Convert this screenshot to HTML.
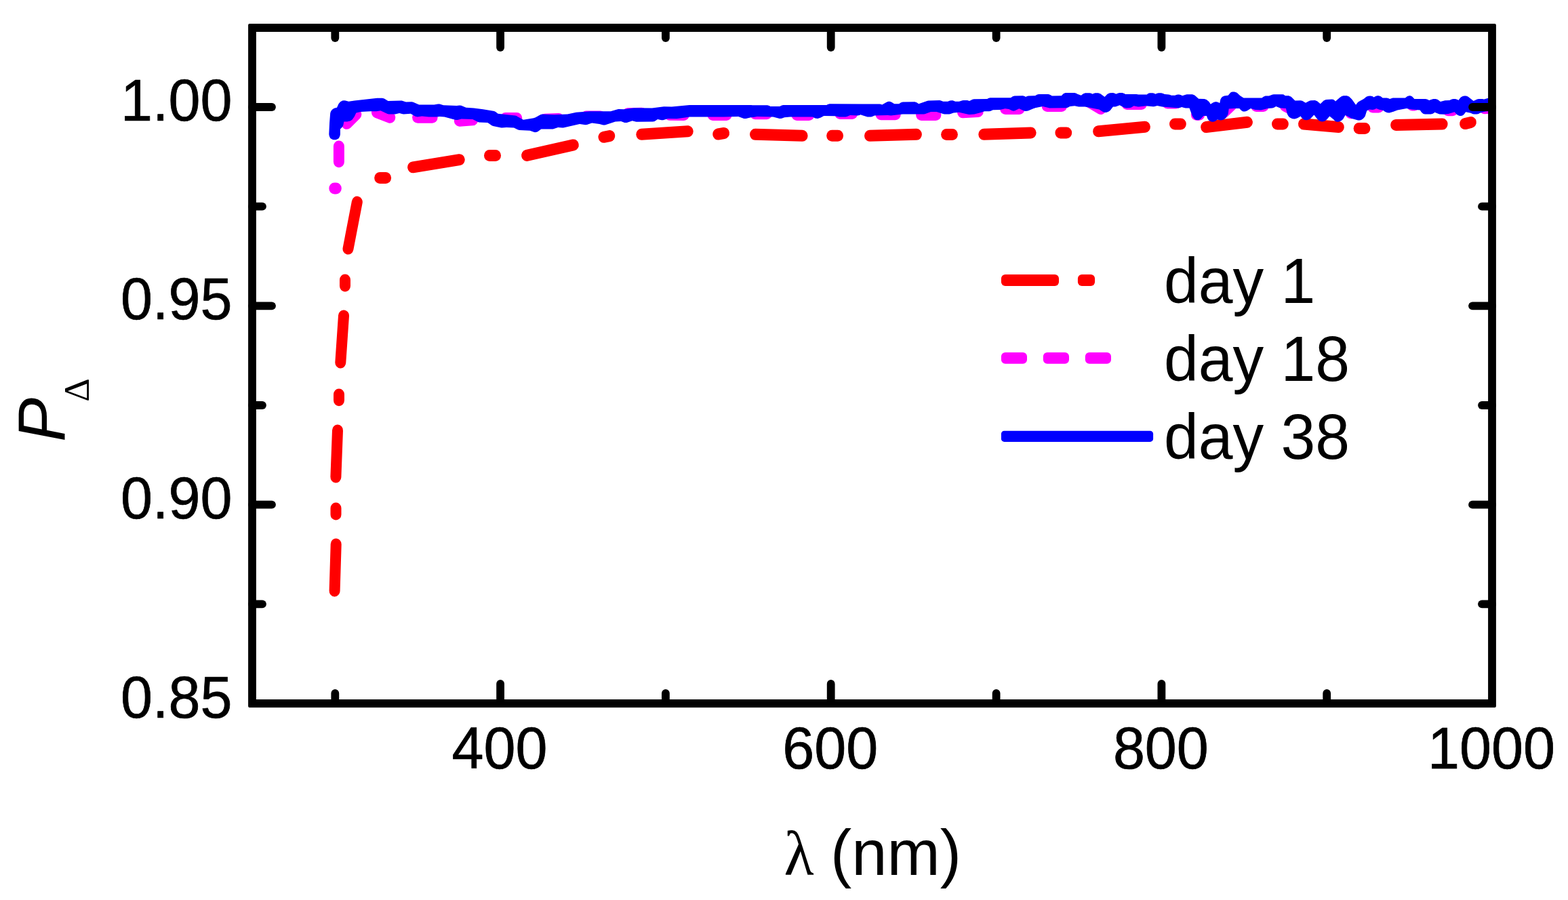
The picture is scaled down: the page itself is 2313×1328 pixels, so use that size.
<!DOCTYPE html>
<html lang="en"><head><meta charset="utf-8"><title>P_Delta vs lambda</title>
<style>
html,body{margin:0;padding:0;background:#fff;}
body{width:2313px;height:1328px;overflow:hidden;}
svg{display:block;}
text{font-family:"Liberation Sans",sans-serif;fill:#000;}
.sf{font-family:"Liberation Serif",serif;}
</style></head><body>
<svg width="2313" height="1328" viewBox="0 0 2313 1328">
<rect x="0" y="0" width="2313" height="1328" fill="#fff"/>
<defs><clipPath id="plot"><rect x="372.0" y="41.0" width="1829.0" height="997.0"/></clipPath></defs>
<g clip-path="url(#plot)">
<g transform="scale(0.94118,1)" fill="none" stroke-linecap="round" stroke-width="17">
<g stroke="#ff0000">
<line x1="526.68" y1="803.0" x2="524.45" y2="871.9"/>
<line x1="526.47" y1="750.1" x2="526.47" y2="759.1"/>
<line x1="529.12" y1="635.1" x2="526.36" y2="703.9"/>
<line x1="531.25" y1="582.0" x2="531.25" y2="590.8"/>
<line x1="538.69" y1="465.9" x2="533.69" y2="535.0"/>
<line x1="540.81" y1="413.0" x2="540.81" y2="421.9"/>
<line x1="559.72" y1="298.1" x2="545.59" y2="367.1"/>
<line x1="595.21" y1="262.5" x2="604.67" y2="262.5"/>
<line x1="647.17" y1="246.8" x2="720.06" y2="235.7"/>
<line x1="767.12" y1="229.6" x2="776.69" y2="229.6"/>
<line x1="825.67" y1="229.4" x2="898.66" y2="213.9"/>
<line x1="946.16" y1="202.3" x2="955.51" y2="200.6"/>
<line x1="1005.44" y1="198.3" x2="1078.12" y2="193.8"/>
<line x1="1125.40" y1="198.0" x2="1134.75" y2="196.5"/>
<line x1="1183.62" y1="198.3" x2="1257.57" y2="200.3"/>
<line x1="1303.90" y1="200.3" x2="1313.25" y2="200.3"/>
<line x1="1363.19" y1="200.3" x2="1436.39" y2="198.3"/>
<line x1="1483.36" y1="198.4" x2="1492.71" y2="198.4"/>
<line x1="1542.01" y1="198.3" x2="1615.64" y2="195.9"/>
<line x1="1662.18" y1="195.9" x2="1671.53" y2="195.9"/>
<line x1="1721.36" y1="193.7" x2="1794.46" y2="187.2"/>
<line x1="1841.31" y1="183.0" x2="1850.66" y2="183.0"/>
<line x1="1890.40" y1="187.5" x2="1954.89" y2="180.3"/>
<line x1="2001.75" y1="183.0" x2="2011.10" y2="183.0"/>
<line x1="2043.19" y1="183.0" x2="2098.22" y2="187.5"/>
<line x1="2129.89" y1="189.4" x2="2139.24" y2="189.4"/>
<line x1="2187.79" y1="184.4" x2="2260.57" y2="183.0"/>
<line x1="2296.17" y1="182.6" x2="2305.41" y2="180.5"/>
</g>
<g stroke="#ff00ff">
<line x1="524.13" y1="277.9" x2="526.79" y2="277.9"/>
<line x1="531.14" y1="216.0" x2="531.14" y2="238.7"/>
<line x1="543.58" y1="182.3" x2="558.24" y2="168.5"/>
<line x1="590.64" y1="165.7" x2="611.26" y2="173.3"/>
<line x1="654.61" y1="173.3" x2="677.45" y2="173.3"/>
<line x1="720.16" y1="178.2" x2="740.78" y2="176.8"/>
<line x1="792.31" y1="174.4" x2="809.94" y2="174.4"/>
<line x1="853.83" y1="176.2" x2="875.71" y2="175.4"/>
<line x1="918.74" y1="172.1" x2="940.63" y2="172.1"/>
<line x1="983.66" y1="167.8" x2="1005.55" y2="167.2"/>
<line x1="1049.86" y1="169.2" x2="1071.96" y2="169.5"/>
<line x1="1117.22" y1="169.5" x2="1138.47" y2="169.5"/>
<line x1="1183.52" y1="167.7" x2="1201.79" y2="167.7"/>
<line x1="1248.97" y1="169.5" x2="1267.99" y2="169.5"/>
<line x1="1316.65" y1="167.4" x2="1335.67" y2="167.4"/>
<line x1="1380.72" y1="168.8" x2="1403.35" y2="168.8"/>
<line x1="1444.04" y1="169.5" x2="1466.68" y2="169.5"/>
<line x1="1508.75" y1="165.7" x2="1532.87" y2="164.6"/>
<line x1="1575.79" y1="160.5" x2="1597.68" y2="160.5"/>
<line x1="1641.24" y1="156.6" x2="1663.88" y2="156.6"/>
<line x1="1706.27" y1="149.8" x2="1725.39" y2="160.5"/>
<line x1="1766.41" y1="153.5" x2="1789.04" y2="153.5"/>
<line x1="1829.62" y1="151.9" x2="1843.22" y2="151.9"/>
<line x1="1875.21" y1="169.2" x2="1879.67" y2="169.2"/>
<line x1="1918.34" y1="165.7" x2="1930.99" y2="154.3"/>
<line x1="1969.03" y1="156.4" x2="1980.07" y2="156.4"/>
<line x1="2014.29" y1="156.4" x2="2020.98" y2="159.5"/>
<line x1="2116.82" y1="166.8" x2="2119.58" y2="166.8"/>
<line x1="2151.35" y1="158.1" x2="2160.81" y2="158.1"/>
<line x1="2213.08" y1="155.0" x2="2217.12" y2="155.0"/>
<line x1="2269.39" y1="162.8" x2="2276.73" y2="162.8"/>
<line x1="2326.77" y1="159.7" x2="2336.01" y2="159.3"/>
</g>
</g>
<polygon fill="#0000ff" points="485.3,197.9 485.6,200.0 486.5,202.5 487.6,204.2 489.3,205.3 491.6,206.3 495.4,206.3 497.8,205.3 499.5,204.2 500.6,202.4 501.6,199.9 501.9,198.1 501.9,190.6 504.9,187.6 506.3,185.0 507.4,179.6 512.1,179.5 516.6,178.6 519.6,176.6 522.8,172.1 525.4,166.4 532.3,165.0 546.2,164.3 555.4,164.3 561.4,163.2 571.5,168.0 573.6,168.5 583.0,168.5 589.1,167.1 593.9,168.3 595.5,168.5 605.8,167.8 612.6,171.7 615.8,172.4 622.4,171.5 632.4,172.6 644.1,172.6 648.7,171.9 655.6,172.6 672.2,177.1 675.0,177.1 680.6,175.4 697.2,176.1 704.6,179.8 706.6,180.4 719.4,181.0 725.5,185.2 727.3,186.0 739.4,188.4 740.9,188.5 747.1,187.9 758.1,188.6 764.2,191.5 766.1,192.0 781.7,192.7 788.0,195.0 789.5,195.3 792.9,194.4 798.3,190.6 814.1,190.6 815.7,190.4 823.2,187.9 829.4,188.5 831.0,188.4 855.1,183.0 863.6,184.2 865.9,184.0 873.1,181.6 884.2,183.0 889.7,184.4 892.5,184.4 907.7,179.6 916.1,178.9 921.3,180.9 924.7,181.0 932.7,178.2 937.5,179.6 938.9,179.8 963.1,179.6 965.7,178.9 970.1,176.1 975.8,177.3 978.2,177.2 985.3,175.1 998.2,175.3 1017.2,172.6 1067.0,172.6 1089.2,171.9 1097.4,174.9 1100.4,175.0 1108.6,172.9 1111.2,173.1 1116.9,171.9 1140.5,172.4 1150.0,175.0 1153.1,174.8 1157.1,173.3 1165.4,172.6 1198.7,172.4 1202.5,174.5 1206.1,174.9 1210.2,173.7 1215.3,171.0 1231.9,171.3 1238.0,172.6 1247.4,172.6 1249.5,172.1 1254.1,169.9 1265.2,170.5 1267.7,170.0 1269.3,169.2 1279.6,172.4 1281.2,172.6 1285.0,172.4 1286.8,172.0 1290.1,170.6 1309.5,169.9 1314.3,170.5 1331.6,168.5 1362.6,168.5 1364.3,168.2 1373.2,165.0 1381.5,165.0 1391.9,168.3 1393.4,168.5 1400.0,168.5 1401.7,168.2 1406.5,166.4 1414.8,165.7 1429.2,169.0 1430.9,169.1 1437.3,168.4 1447.8,165.7 1452.2,164.3 1459.3,164.3 1461.5,163.8 1464.6,162.3 1475.1,162.0 1482.6,160.2 1488.2,160.9 1492.9,163.2 1495.1,163.7 1497.3,163.2 1503.4,160.2 1510.4,163.5 1513.1,163.9 1516.5,163.4 1527.0,159.2 1538.1,157.1 1548.3,159.5 1572.9,159.2 1575.1,158.7 1578.2,157.1 1585.2,156.3 1591.2,157.4 1600.4,157.4 1621.2,161.6 1627.7,165.4 1631.5,165.9 1634.7,165.0 1637.4,163.2 1641.9,157.4 1645.2,157.4 1647.0,157.1 1651.6,155.3 1658.9,158.9 1661.3,159.5 1666.8,159.3 1669.5,158.3 1672.4,156.3 1678.6,157.5 1680.2,157.6 1690.4,156.3 1700.6,157.3 1702.3,157.2 1707.1,156.0 1714.3,157.4 1738.8,159.5 1742.0,158.6 1743.1,157.9 1747.6,159.3 1749.1,159.5 1754.5,159.5 1759.0,171.4 1761.1,174.5 1763.0,176.2 1764.3,176.9 1767.8,177.2 1768.7,177.0 1771.1,175.5 1775.3,170.9 1780.0,170.9 1781.2,174.7 1782.7,177.0 1784.3,178.5 1787.6,179.7 1790.1,179.7 1793.3,178.5 1795.6,176.6 1800.7,177.4 1803.7,177.0 1806.3,175.7 1808.2,174.0 1811.0,169.8 1811.8,167.6 1812.7,160.5 1821.0,160.0 1828.3,160.0 1830.5,162.6 1832.7,164.0 1833.6,164.4 1836.6,164.5 1838.9,163.8 1840.4,163.1 1844.9,160.0 1851.7,162.0 1858.7,162.5 1860.3,162.4 1869.9,160.0 1876.9,159.6 1879.3,158.8 1882.3,156.9 1887.8,159.2 1889.4,159.6 1896.9,160.0 1898.8,167.9 1899.5,169.5 1901.2,172.2 1903.6,174.1 1906.7,175.3 1910.0,175.4 1913.9,174.2 1918.7,171.4 1920.0,173.8 1922.2,175.8 1924.3,176.9 1927.8,177.2 1930.8,176.5 1933.2,175.0 1938.4,169.4 1942.4,174.8 1945.5,177.9 1948.6,179.3 1951.1,179.5 1954.5,178.6 1957.5,176.1 1961.3,171.4 1967.5,176.6 1968.5,177.8 1970.2,179.2 1972.4,179.7 1974.0,179.7 1976.3,179.2 1979.0,177.8 1981.2,175.8 1984.5,169.9 1988.7,171.9 1993.6,174.7 2003.2,177.4 2005.5,177.5 2007.9,176.9 2010.6,175.3 2012.9,172.7 2013.9,170.9 2016.2,163.6 2019.9,161.6 2024.7,162.0 2027.3,161.5 2030.3,160.0 2034.7,161.7 2040.6,163.1 2043.3,165.0 2046.4,166.2 2049.5,166.4 2055.5,164.8 2061.4,162.4 2074.9,160.0 2082.5,161.6 2094.7,162.6 2097.2,166.0 2098.7,167.3 2099.7,167.9 2102.2,168.6 2110.7,168.6 2113.6,167.7 2116.5,165.7 2122.0,168.0 2123.5,168.4 2129.5,168.7 2136.6,167.9 2145.6,165.2 2148.3,168.3 2150.5,170.0 2153.3,170.9 2155.5,170.9 2157.8,170.3 2159.6,168.8 2162.2,165.2 2169.5,166.8 2172.6,168.2 2174.6,168.6 2178.6,168.6 2181.1,167.9 2183.0,166.8 2190.3,164.7 2196.1,164.1 2198.4,163.2 2200.0,161.5 2200.6,159.1 2200.6,149.9 2200.1,147.7 2198.6,146.0 2196.6,145.0 2194.3,145.1 2189.2,146.5 2186.5,146.0 2181.1,146.0 2178.9,146.5 2173.6,149.1 2166.1,142.9 2164.3,142.0 2162.5,141.5 2159.9,141.4 2157.7,141.9 2154.9,143.6 2151.3,148.1 2150.1,147.1 2146.9,146.0 2143.7,146.0 2141.4,146.5 2138.3,148.1 2131.5,148.3 2124.8,150.1 2121.0,147.1 2117.9,146.0 2114.4,146.0 2112.5,146.4 2108.2,148.1 2105.1,146.5 2102.8,146.0 2086.4,146.0 2083.7,143.0 2082.0,141.7 2080.0,141.3 2078.7,141.3 2075.7,142.3 2072.9,144.4 2056.0,144.4 2054.5,144.6 2050.0,146.0 2048.0,145.0 2045.7,144.4 2039.6,144.4 2036.8,142.3 2033.8,141.3 2031.6,141.3 2029.2,142.0 2026.6,143.4 2024.4,142.1 2021.4,141.4 2018.3,141.7 2015.6,142.8 2011.6,146.0 2004.2,150.1 2002.5,151.5 2000.1,154.8 1994.2,146.5 1990.1,142.6 1986.8,141.3 1981.8,141.3 1979.2,142.0 1976.6,143.7 1970.0,149.6 1969.1,148.5 1967.3,147.0 1965.0,146.6 1956.0,146.9 1952.6,148.4 1947.8,153.2 1943.0,149.3 1939.7,148.1 1933.4,148.3 1931.1,148.9 1926.0,151.7 1921.0,148.8 1918.2,148.2 1910.4,148.6 1904.6,142.8 1901.0,141.3 1895.8,141.3 1893.6,139.6 1891.7,139.2 1879.1,139.2 1877.3,139.5 1871.9,141.6 1866.6,141.6 1863.3,142.9 1861.6,144.4 1834.5,144.4 1829.4,141.3 1824.6,136.8 1821.0,135.5 1818.1,135.5 1816.0,136.1 1814.4,137.4 1811.7,140.8 1805.9,141.6 1803.3,142.8 1802.1,143.8 1800.4,146.5 1799.2,152.2 1797.3,151.0 1794.7,150.3 1792.4,150.3 1789.6,151.2 1785.7,153.8 1784.1,151.0 1782.8,149.5 1779.7,147.0 1776.7,146.0 1768.1,145.8 1762.2,140.5 1758.9,139.2 1751.2,139.2 1749.6,139.5 1744.2,141.3 1741.5,139.9 1739.2,139.4 1737.3,139.4 1735.0,140.0 1733.4,140.8 1727.8,140.8 1726.1,139.9 1724.0,139.4 1718.1,139.1 1715.0,137.7 1713.0,137.3 1709.2,137.3 1707.6,137.6 1704.3,138.7 1702.6,137.8 1700.3,137.3 1695.9,137.3 1693.5,137.9 1691.9,139.4 1679.4,139.4 1676.3,139.1 1660.0,139.1 1658.5,138.0 1655.5,137.0 1651.3,137.0 1649.4,137.4 1646.1,138.7 1644.6,137.8 1641.8,137.1 1637.0,137.2 1633.6,138.7 1629.5,142.9 1623.5,138.5 1622.3,137.9 1620.0,137.3 1615.4,137.3 1613.1,137.9 1611.5,138.7 1609.8,137.8 1607.5,137.3 1600.8,137.3 1597.6,138.5 1594.8,140.8 1589.3,138.7 1587.7,137.7 1585.1,137.0 1572.0,137.0 1570.1,137.4 1568.4,138.5 1565.8,141.2 1551.9,141.5 1548.9,139.8 1546.4,139.1 1532.3,139.1 1530.0,139.6 1527.0,141.2 1517.0,141.5 1514.9,142.0 1513.1,142.9 1511.5,142.0 1508.8,141.2 1496.5,141.5 1493.9,142.3 1491.0,144.2 1460.6,144.2 1457.9,145.0 1456.3,146.0 1436.7,146.3 1434.5,146.8 1430.0,149.1 1427.0,148.1 1421.1,148.1 1419.6,148.3 1414.8,149.8 1409.2,149.8 1407.4,148.9 1405.5,148.3 1403.5,148.2 1401.2,148.5 1398.1,149.8 1391.2,149.8 1388.1,148.5 1386.1,148.1 1369.8,148.4 1368.2,148.7 1355.2,153.2 1352.3,151.2 1349.4,150.2 1331.7,150.5 1329.1,151.3 1326.1,153.2 1319.2,153.2 1314.8,150.5 1312.2,149.8 1310.8,149.8 1308.3,150.5 1301.2,154.6 1299.3,153.8 1297.5,153.5 1223.7,153.2 1221.0,154.0 1219.4,155.0 1155.5,155.0 1153.2,155.5 1150.2,157.1 1136.3,157.1 1134.7,156.1 1132.0,155.3 1110.0,155.3 1108.1,155.0 1017.0,155.0 990.9,157.4 979.4,157.2 961.8,159.5 935.1,159.2 920.2,161.3 912.7,161.0 911.1,161.2 900.8,164.3 870.1,164.3 850.0,165.7 837.1,168.5 817.7,169.2 799.7,168.6 797.1,169.2 790.0,173.3 787.2,174.3 772.0,176.8 761.8,171.1 759.9,170.5 734.6,167.8 731.4,165.2 729.1,164.1 712.5,161.3 698.8,159.5 687.5,158.8 680.4,155.8 677.9,155.5 673.6,156.0 654.2,155.3 648.5,153.6 646.1,153.5 640.4,154.6 618.2,154.6 609.6,150.7 607.3,150.2 598.8,150.5 592.7,148.6 591.1,148.4 572.5,149.1 566.8,145.5 564.1,144.7 556.2,144.7 522.7,148.4 514.3,149.8 509.8,148.4 507.7,148.2 505.1,148.6 502.0,150.2 499.5,153.3 497.0,158.8 492.8,159.7 489.7,161.9 488.0,164.6 487.2,166.9 486.1,181.1"/>
</g>
<path fill="#000" fill-rule="evenodd" d="M368.1,35.1 H2204.9 Q2206.9,35.1 2206.9,37.1 V1041.9 Q2206.9,1043.9 2204.9,1043.9 H368.1 Q366.1,1043.9 366.1,1041.9 V37.1 Q366.1,35.1 368.1,35.1 Z M377.9,46.9 V1032.1 H2195.1 V46.9 Z"/>
<g stroke="#000" stroke-width="11.8" fill="none" stroke-linecap="round">
<line x1="494.3" y1="1038.0" x2="494.3" y2="1023.0"/>
<line x1="494.3" y1="41.0" x2="494.3" y2="56.0"/>
<line x1="738.1" y1="1038.0" x2="738.1" y2="1009.0"/>
<line x1="738.1" y1="41.0" x2="738.1" y2="70.0"/>
<line x1="981.9" y1="1038.0" x2="981.9" y2="1023.0"/>
<line x1="981.9" y1="41.0" x2="981.9" y2="56.0"/>
<line x1="1225.7" y1="1038.0" x2="1225.7" y2="1009.0"/>
<line x1="1225.7" y1="41.0" x2="1225.7" y2="70.0"/>
<line x1="1469.6" y1="1038.0" x2="1469.6" y2="1023.0"/>
<line x1="1469.6" y1="41.0" x2="1469.6" y2="56.0"/>
<line x1="1713.4" y1="1038.0" x2="1713.4" y2="1009.0"/>
<line x1="1713.4" y1="41.0" x2="1713.4" y2="70.0"/>
<line x1="1957.2" y1="1038.0" x2="1957.2" y2="1023.0"/>
<line x1="1957.2" y1="41.0" x2="1957.2" y2="56.0"/>
<line x1="372.0" y1="891.3" x2="387.0" y2="891.3"/>
<line x1="2201.0" y1="891.3" x2="2186.0" y2="891.3"/>
<line x1="372.0" y1="744.7" x2="401.0" y2="744.7"/>
<line x1="2201.0" y1="744.7" x2="2172.0" y2="744.7"/>
<line x1="372.0" y1="598.0" x2="387.0" y2="598.0"/>
<line x1="2201.0" y1="598.0" x2="2186.0" y2="598.0"/>
<line x1="372.0" y1="451.3" x2="401.0" y2="451.3"/>
<line x1="2201.0" y1="451.3" x2="2172.0" y2="451.3"/>
<line x1="372.0" y1="304.7" x2="387.0" y2="304.7"/>
<line x1="2201.0" y1="304.7" x2="2186.0" y2="304.7"/>
<line x1="372.0" y1="158.0" x2="401.0" y2="158.0"/>
<line x1="2201.0" y1="158.0" x2="2172.0" y2="158.0"/>
</g>
<text transform="translate(737.10,1133.70) scale(1.0000,1.0220)" font-size="84.50" text-anchor="middle" stroke="#000" stroke-width="0.7" stroke-linejoin="round">400</text>
<text transform="translate(1224.73,1133.70) scale(1.0000,1.0220)" font-size="84.50" text-anchor="middle" stroke="#000" stroke-width="0.7" stroke-linejoin="round">600</text>
<text transform="translate(1712.37,1133.70) scale(1.0000,1.0220)" font-size="84.50" text-anchor="middle" stroke="#000" stroke-width="0.7" stroke-linejoin="round">800</text>
<text transform="translate(2200.00,1133.70) scale(1.0000,1.0220)" font-size="84.50" text-anchor="middle" stroke="#000" stroke-width="0.7" stroke-linejoin="round">1000</text>
<text transform="translate(342.50,1058.90) scale(1.0000,1.0220)" font-size="84.50" text-anchor="end" stroke="#000" stroke-width="0.7" stroke-linejoin="round">0.85</text>
<text transform="translate(342.50,764.60) scale(1.0000,1.0220)" font-size="84.50" text-anchor="end" stroke="#000" stroke-width="0.7" stroke-linejoin="round">0.90</text>
<text transform="translate(342.50,470.90) scale(1.0000,1.0220)" font-size="84.50" text-anchor="end" stroke="#000" stroke-width="0.7" stroke-linejoin="round">0.95</text>
<text transform="translate(342.50,177.80) scale(1.0000,1.0220)" font-size="84.50" text-anchor="end" stroke="#000" stroke-width="0.7" stroke-linejoin="round">1.00</text>
<text transform="translate(0,1291.3) scale(1,1.012)" font-size="93.9"><tspan class="sf" font-size="91" x="1156.60">λ</tspan><tspan x="1198.99"> (nm)</tspan></text>
<text transform="translate(95,652) rotate(-90)" font-size="97.7"><tspan font-style="italic">P</tspan><tspan class="sf" font-size="53.5" x="59.2" y="36.2">Δ</tspan></text>
<rect fill="#ff0000" x="1476.9" y="404.9" width="85.1" height="17.1" rx="6.0" ry="6.0"/>
<rect fill="#ff0000" x="1589.9" y="404.9" width="25.2" height="17.1" rx="6.0" ry="6.0"/>
<rect fill="#ff00ff" x="1476.9" y="519.9" width="38.1" height="16.9" rx="6.0" ry="6.0"/>
<rect fill="#ff00ff" x="1538.8" y="519.9" width="38.2" height="16.9" rx="6.0" ry="6.0"/>
<rect fill="#ff00ff" x="1600.8" y="519.9" width="38.2" height="16.9" rx="6.0" ry="6.0"/>
<rect fill="#0000ff" x="1476.9" y="635.8" width="224.2" height="16.1" rx="4.5" ry="4.5"/>
<text transform="translate(1716.92,447.00) scale(1.0000,1.0400)" font-size="91.30" text-anchor="start">day 1</text>
<text transform="translate(1716.92,562.00) scale(1.0000,1.0400)" font-size="91.30" text-anchor="start">day 18</text>
<text transform="translate(1716.92,677.40) scale(1.0000,1.0400)" font-size="91.30" text-anchor="start">day 38</text>
</svg>
</body></html>
